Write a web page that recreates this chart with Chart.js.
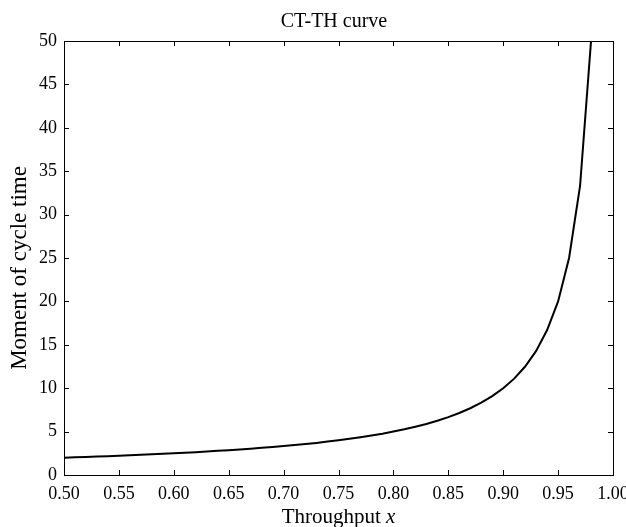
<!DOCTYPE html>
<html>
<head>
<meta charset="utf-8">
<title>CT-TH curve</title>
<script src="https://cdn.jsdelivr.net/npm/chart.js@4.4.1/dist/chart.umd.min.js"></script>
<style>
    body { margin: 0; background: #fff; }
    canvas { display: block; }
</style>
</head>
<body>
<canvas id="ctChart" width="626" height="527"></canvas>
<script>
// Throughput values (x) and moment of cycle time
const throughput = [0.50, 0.51, 0.52, 0.53, 0.54, 0.55, 0.56, 0.57, 0.58, 0.59,
    0.60, 0.61, 0.62, 0.63, 0.64, 0.65, 0.66, 0.67, 0.68, 0.69,
    0.70, 0.71, 0.72, 0.73, 0.74, 0.75, 0.76, 0.77, 0.78, 0.79,
    0.80, 0.81, 0.82, 0.83, 0.84, 0.85, 0.86, 0.87, 0.88, 0.89,
    0.90, 0.91, 0.92, 0.93, 0.94, 0.95, 0.96, 0.97, 0.98];
const cycleTime = [2.00, 2.04, 2.08, 2.13, 2.17, 2.22, 2.27, 2.33, 2.38, 2.44,
    2.50, 2.56, 2.63, 2.70, 2.78, 2.86, 2.94, 3.03, 3.13, 3.23,
    3.33, 3.45, 3.57, 3.70, 3.85, 4.00, 4.17, 4.35, 4.55, 4.76,
    5.00, 5.26, 5.56, 5.88, 6.25, 6.67, 7.14, 7.69, 8.33, 9.09,
    10.0, 11.1, 12.5, 14.3, 16.7, 20.0, 25.0, 33.3, 50.0];

const serif = "'Liberation Serif', 'Times New Roman', serif";

// Frame, inward ticks on all four sides, title and the two axis titles
const frameTicks = {
    id: 'frameTicks',
    afterDraw(chart) {
        const ctx = chart.ctx;
        const a = chart.chartArea;
        const xs = chart.scales.x;
        const ys = chart.scales.y;
        ctx.save();
        ctx.strokeStyle = '#000';
        ctx.lineWidth = 1;
        ctx.strokeRect(a.left + 0.5, a.top + 0.5, a.right - a.left, a.bottom - a.top);
        ctx.beginPath();
        xs.ticks.forEach(t => {
            const px = Math.round(xs.getPixelForValue(t.value)) + 0.5;
            ctx.moveTo(px, a.bottom); ctx.lineTo(px, a.bottom - 5);
            ctx.moveTo(px, a.top); ctx.lineTo(px, a.top + 5);
        });
        ys.ticks.forEach(t => {
            const py = Math.round(ys.getPixelForValue(t.value)) + 0.5;
            ctx.moveTo(a.left, py); ctx.lineTo(a.left + 5, py);
            ctx.moveTo(a.right, py); ctx.lineTo(a.right - 5, py);
        });
        ctx.stroke();

        ctx.fillStyle = '#000';

        // chart title
        ctx.textAlign = 'center';
        ctx.textBaseline = 'alphabetic';
        ctx.font = "20px " + serif;
        ctx.fillText('CT-TH curve', 334, 27);

        // x axis title with italic x
        const plain = 'Throughput ';
        ctx.font = "21px " + serif;
        const w1 = ctx.measureText(plain).width;
        ctx.font = "italic 21px " + serif;
        const w2 = ctx.measureText('x').width;
        const x0 = (a.left + a.right) / 2 - (w1 + w2) / 2;
        ctx.textAlign = 'left';
        ctx.font = "21px " + serif;
        ctx.fillText(plain, x0, 523);
        ctx.font = "italic 21px " + serif;
        ctx.fillText('x', x0 + w1, 523);

        // y axis title
        ctx.translate(20, 268);
        ctx.rotate(-Math.PI / 2);
        ctx.textAlign = 'center';
        ctx.textBaseline = 'middle';
        ctx.font = "23px " + serif;
        ctx.fillText('Moment of cycle time', 0, 0);
        ctx.restore();
    }
};

const ctx = document.getElementById('ctChart').getContext('2d');
const ctChart = new Chart(ctx, {
    type: 'line',
    data: {
        datasets: [{
            label: 'CT-TH',
            data: throughput.map((x, i) => ({ x: x, y: cycleTime[i] })),
            borderColor: '#000',
            borderWidth: 2,
            pointRadius: 0,
            tension: 0,
            fill: false
        }]
    },
    options: {
        responsive: false,
        animation: false,
        layout: { padding: { left: 0, right: 13, top: 41, bottom: 0 } },
        plugins: {
            legend: { display: false },
            tooltip: { enabled: false },
            title: { display: false }
        },
        scales: {
            x: {
                type: 'linear',
                min: 0.5,
                max: 1.0,
                afterFit(scale) {
                    scale.height = 52;
                    scale.paddingLeft = 0;
                    scale.paddingRight = 0;
                },
                grid: { display: false, drawTicks: false },
                border: { display: false },
                ticks: {
                    stepSize: 0.05,
                    color: '#000',
                    padding: 8,
                    maxRotation: 0,
                    font: { family: serif, size: 18 },
                    callback: v => v.toFixed(2)
                }
            },
            y: {
                min: 0,
                max: 50,
                afterFit(scale) {
                    scale.width = 64;
                    scale.paddingTop = 0;
                    scale.paddingBottom = 0;
                },
                grid: { display: false, drawTicks: false },
                border: { display: false },
                ticks: {
                    stepSize: 5,
                    color: '#000',
                    padding: 7,
                    font: { family: serif, size: 18 }
                }
            }
        }
    },
    plugins: [frameTicks]
});
</script>
</body>
</html>
